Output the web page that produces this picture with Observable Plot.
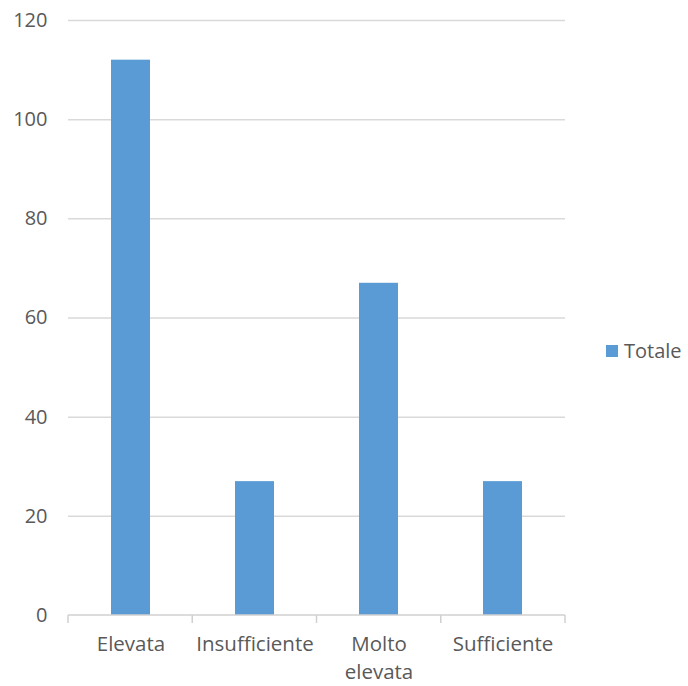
<!DOCTYPE html>
<html><head><meta charset="utf-8">
<script src="https://cdn.jsdelivr.net/npm/d3@7"></script>
<script src="https://cdn.jsdelivr.net/npm/@observablehq/plot@0.6"></script>
<style>
body{margin:0;background:#fff;}
#wrap{position:relative;width:688px;height:686px;font-family:"Open Sans",sans-serif;}
.legend{position:absolute;left:606px;top:337px;display:flex;align-items:center;font-size:20px;color:#595959;line-height:28px}
.legend .sw{width:12px;height:12px;background:#5B9BD5;margin-right:6px;display:inline-block}
</style></head>
<body><div id="wrap"></div>
<script>
const categories = ["Elevata", "Insufficiente", "Molto elevata", "Sufficiente"];
const categoryLabels = ["Elevata", "Insufficiente", "Molto\nelevata", "Sufficiente"];
const totale = [112, 27, 67, 27];
const yTicks = [0, 20, 40, 60, 80, 100, 120];
const seriesName = "Totale";

const data = categories.map((c, i) => ({cat: c, value: totale[i]}));
const labelOf = new Map(categories.map((c, i) => [c, categoryLabels[i]]));

const W = 688, H = 686, mL = 68, mR = 123, mT = 20, mB = 71;

const boundaryTicks = (index, scales, values, dim) => {
  const g = d3.create("svg:g");
  const left = dim.marginLeft, right = dim.width - dim.marginRight;
  const y0 = scales.y(0);
  const n = categories.length;
  g.append("line").attr("x1", left).attr("x2", right).attr("y1", y0).attr("y2", y0)
    .attr("stroke", "#D0D0D0").attr("stroke-width", 1.5);
  for (let i = 0; i <= n; i++) {
    const x = left + i * (right - left) / n;
    g.append("line").attr("x1", x).attr("x2", x).attr("y1", y0).attr("y2", y0 + 8)
      .attr("stroke", "#D0D0D0").attr("stroke-width", 1.5);
  }
  return g.node();
};

const chart = Plot.plot({
  width: W, height: H,
  marginLeft: mL, marginRight: mR, marginTop: mT, marginBottom: mB,
  style: {fontFamily: '"Open Sans", sans-serif', fontSize: "20px", color: "#595959", background: "#fff", overflow: "visible"},
  x: {domain: categories, paddingInner: 0.685, paddingOuter: 0.3425},
  y: {domain: [0, 120]},
  marks: [
    Plot.gridY(yTicks.filter(d => d > 0), {stroke: "#D9D9D9", strokeOpacity: 1, strokeWidth: 1.5}),
    Plot.barY(data, {x: "cat", y: "value", fill: "#5B9BD5"}),
    boundaryTicks,
    Plot.axisY({ticks: yTicks, tickSize: 0, tickPadding: 21, label: null, fontSize: 20}),
    Plot.axisX({tickSize: 0, tickPadding: 16, label: null, fontSize: 20.5, lineHeight: 1.36,
      tickFormat: d => labelOf.get(d)})
  ]
});
const wrap = document.getElementById("wrap");
wrap.appendChild(chart);
const leg = document.createElement("div");
leg.className = "legend";
leg.innerHTML = `<span class="sw"></span><span>${seriesName}</span>`;
wrap.appendChild(leg);
</script>
</body></html>
